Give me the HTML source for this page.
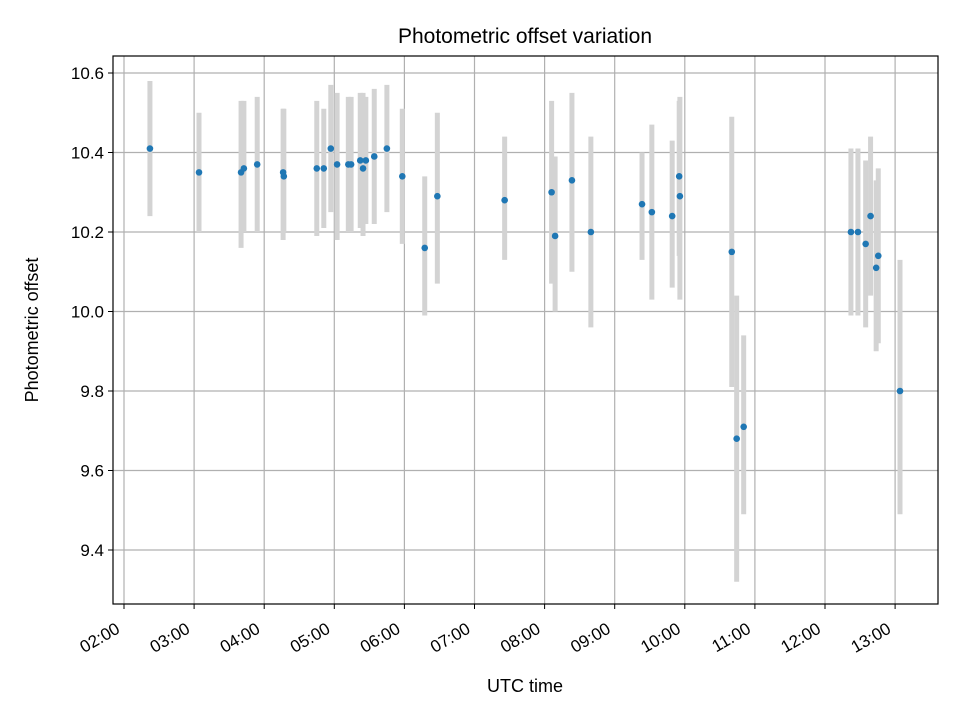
<!DOCTYPE html>
<html><head><meta charset="utf-8"><style>
body{margin:0;background:#fff;}
svg text{font-family:"Liberation Sans","DejaVu Sans",sans-serif;fill:#000;}
</style></head><body>
<svg id="chart" width="960" height="720" xmlns="http://www.w3.org/2000/svg">
<rect width="960" height="720" fill="#fff"/>
<text x="525" y="43" font-size="21" text-anchor="middle">Photometric offset variation</text>
<text x="525" y="692" font-size="18" text-anchor="middle">UTC time</text>
<text transform="translate(38,330) rotate(-90)" font-size="18" text-anchor="middle">Photometric offset</text>
<g id="grid"></g><g id="errs"></g><g id="pts"></g><g id="axes"></g>
</svg>
<script>
const times=[2.37,3.07,3.67,3.71,3.90,4.27,4.28,4.75,4.85,4.95,5.04,5.20,5.24,5.37,5.41,5.45,5.57,5.75,5.97,6.29,6.47,7.43,8.10,8.15,8.39,8.66,9.39,9.53,9.82,9.92,9.93,10.67,10.74,10.84,12.37,12.47,12.58,12.65,12.73,12.76,13.07];
const values=[10.41,10.35,10.35,10.36,10.37,10.35,10.34,10.36,10.36,10.41,10.37,10.37,10.37,10.38,10.36,10.38,10.39,10.41,10.34,10.16,10.29,10.28,10.30,10.19,10.33,10.20,10.27,10.25,10.24,10.34,10.29,10.15,9.68,9.71,10.20,10.20,10.17,10.24,10.11,10.14,9.80];
const errHigh=[10.58,10.50,10.53,10.53,10.54,10.51,10.51,10.53,10.51,10.57,10.55,10.54,10.54,10.55,10.55,10.54,10.56,10.57,10.51,10.34,10.50,10.44,10.53,10.39,10.55,10.44,10.40,10.47,10.43,10.53,10.54,10.49,10.04,9.94,10.41,10.41,10.38,10.44,10.33,10.36,10.13];
const errLow=[10.24,10.20,10.16,10.20,10.20,10.18,10.20,10.19,10.21,10.25,10.18,10.20,10.20,10.21,10.19,10.22,10.22,10.25,10.17,9.99,10.07,10.13,10.07,10.00,10.10,9.96,10.13,10.03,10.06,10.14,10.03,9.81,9.32,9.49,9.99,9.99,9.96,10.04,9.90,9.92,9.49];
const yTicks=[9.4,9.6,9.8,10.0,10.2,10.4,10.6];
const xTicks=[2,3,4,5,6,7,8,9,10,11,12,13];
const xTickLabels=["02:00","03:00","04:00","05:00","06:00","07:00","08:00","09:00","10:00","11:00","12:00","13:00"];
const L=113,R=938,T=56,B=604;
const xs=h=>124+(h-2)*70.1;
const ys=v=>73+(10.6-v)/0.2*79.5;
const NS="http://www.w3.org/2000/svg";
function mk(tag,attrs,parent){const e=document.createElementNS(NS,tag);for(const k in attrs)e.setAttribute(k,attrs[k]);document.getElementById(parent).appendChild(e);return e;}
yTicks.forEach(v=>{const y=ys(v);
 const g=mk('line',{x1:L,x2:R,y1:y,y2:y,stroke:'#b0b0b0','stroke-width':1.2},'grid');
 
 
 mk('line',{x1:L-5,x2:L,y1:y,y2:y,stroke:'#000','stroke-width':1},'axes');
 const t=mk('text',{x:L-9,y:y+6,'font-size':17,'text-anchor':'end'},'axes');t.textContent=v.toFixed(1);
 
 
});
xTicks.forEach((h,i)=>{const x=xs(h);
 const g=mk('line',{x1:x,x2:x,y1:T,y2:B,stroke:'#b0b0b0','stroke-width':1.2},'grid');
 
 
 mk('line',{x1:x,x2:x,y1:B,y2:B+5,stroke:'#000','stroke-width':1},'axes');
 const t=mk('text',{x:0,y:0,'font-size':17,'text-anchor':'end',transform:`translate(${x-3},${B+28}) rotate(-30)`},'axes');t.textContent=xTickLabels[i];
 
 
});
const frame=mk('rect',{x:L,y:T,width:R-L,height:B-T,fill:'none',stroke:'#000','stroke-width':1.2},'axes');


times.forEach((h,i)=>{const x=xs(h);
 const e=mk('line',{x1:x,x2:x,y1:ys(errHigh[i]),y2:ys(errLow[i]),stroke:'#d3d3d3','stroke-width':5},'errs');
 
 
 const c=mk('circle',{cx:x,cy:ys(values[i]),r:3.3,fill:'#1f77b4'},'pts');
 
 
});
</script>
</body></html>
